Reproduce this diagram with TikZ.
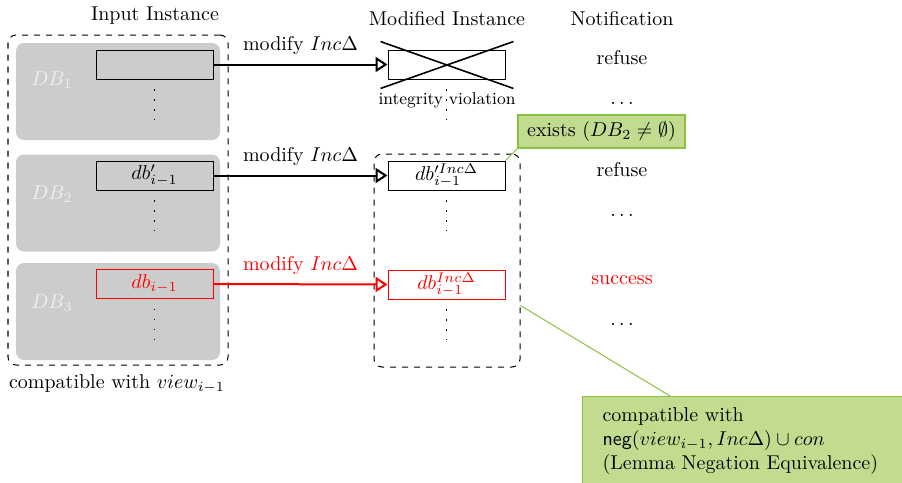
\documentclass[tikz,border=0pt]{standalone}
\usetikzlibrary{arrows.meta,calc}
\definecolor{dbgray}{RGB}{204,204,204}
\definecolor{dblabel}{RGB}{240,240,240}
\definecolor{notefill}{RGB}{193,220,143}
\definecolor{notedraw}{RGB}{140,192,64}
\tikzset{
  dbbox/.style={fill=dbgray, rounded corners=4pt, minimum width=102pt, minimum height=48.5pt, inner sep=0pt},
  rec/.style={draw, line width=0.45pt, minimum width=58.5pt, minimum height=14.5pt, inner sep=0pt},
  modrec/.style={rec, fill=white},
  vdotline/.style={line width=0.75pt, dash pattern=on 0.75pt off 4.25pt},
  flow/.style={line width=1pt, -{Triangle[open,length=6pt,width=7.5pt,line width=1pt]}},
  container/.style={draw, dashed, line width=0.5pt, rounded corners=4pt, inner sep=0pt},
  note/.style={fill=notefill, draw=notedraw, line width=0.6pt},
  notelink/.style={draw=notedraw, line width=0.5pt},
  hdr/.style={anchor=base},
  dblab/.style={text=dblabel},
  flowlab/.style={above, yshift=1pt}
}
\begin{document}
\begin{tikzpicture}[x=0.5pt,y=-0.5pt]
\useasboundingbox (0,0) rectangle (902,483);
\clip (0,0) rectangle (902,483);

% headers
\node[hdr] (h1) at (155,20) {Input Instance};
\node[hdr] (h2) at (447,25) {Modified Instance};
\node[hdr] (h3) at (622,25) {Notification};

% input container
\node[container, minimum width=110pt, minimum height=165pt] (inC) at (118,200) {};
\node[dbbox] (DB1) at (118,91.5) {};
\node[dbbox] (DB2) at (118,203) {};
\node[dbbox] (DB3) at (118,311.5) {};
\node[dblab] (l1) at (52,80) {$DB_1$};
\node[dblab] (l2) at (52,194) {$DB_2$};
\node[dblab] (l3) at (52,303) {$DB_3$};

\node[rec] (a1) at (154.5,64.5) {};
\node[rec] (a2) at (154.5,175.5) {$db'_{i-1}$};
\node[rec, draw=red, text=red] (a3) at (154.5,284) {$db_{i-1}$};

\draw[vdotline] ([yshift=-5pt]a1.south) -- ++(0,31);
\draw[vdotline] ([yshift=-5pt]a2.south) -- ++(0,31);
\draw[vdotline] ([yshift=-5pt]a3.south) -- ++(0,31);

\node[hdr] (cmp) at (117,388) {compatible with $view_{i-1}$};

% modified instances
\node[container, minimum width=73pt, minimum height=106.5pt] (modC) at (447,260.5) {};
\node[modrec] (m1) at (446.5,64.5) {};
\node[modrec] (m2) at (446.5,175.5) {$db'^{Inc\Delta}_{i-1}$};
\node[modrec, draw=red, text=red] (m3) at (446.5,284.5) {$db^{Inc\Delta}_{i-1}$};

\draw[line width=0.8pt] ([shift={(-3.5pt,4pt)}]m1.north west) -- ([shift={(4pt,-4.5pt)}]m1.south east);
\draw[line width=0.8pt] ([shift={(-3.5pt,-4.5pt)}]m1.south west) -- ([shift={(4pt,4pt)}]m1.north east);

\draw[vdotline] ([yshift=-5pt]m1.south) -- ++(0,31);
\draw[vdotline] ([yshift=-5pt]m2.south) -- ++(0,31);
\draw[vdotline] ([yshift=-5pt]m3.south) -- ++(0,31);
\node[hdr, font=\fontsize{8.5}{10}\selectfont] (iv) at (447,104) {integrity violation};

% arrows
\draw[flow] (a1.east) -- node[flowlab] {modify $Inc\Delta$} (m1.west);
\draw[flow] (a2.east) -- node[flowlab] {modify $Inc\Delta$} (m2.west);
\draw[flow, red] (a3.east) -- node[flowlab] {modify $Inc\Delta$} (m3.west);

% notifications
\node[hdr] (n1) at (622,64) {refuse};
\node[hdr] (n2) at (622,104) {$\dots$};
\node[hdr] (n3) at (622,176) {refuse};
\node[hdr] (n4) at (622,216) {$\dots$};
\node[hdr, text=red] (n5) at (622,284) {success};
\node[hdr] (n6) at (622,325) {$\dots$};

% notes
\node[note, minimum width=83.5pt, minimum height=16.5pt, inner sep=0pt] (g1) at (601.5,131.5) {exists ($DB_2 \neq \emptyset$)};
\draw[notelink] (g1.south west) -- (m2.north east);

\node[note, anchor=north west, minimum width=170pt, minimum height=44pt, text width=150pt, align=left, inner xsep=10pt, inner ysep=0pt] (g2) at (582,396) {compatible with\\ $\textsf{neg}(view_{i-1}, Inc\Delta) \cup con$\\ (Lemma Negation Equivalence)};
\draw[notelink] ([yshift=-22.5pt]modC.east) -- ([xshift=44pt]g2.north west);
\end{tikzpicture}
\end{document}
